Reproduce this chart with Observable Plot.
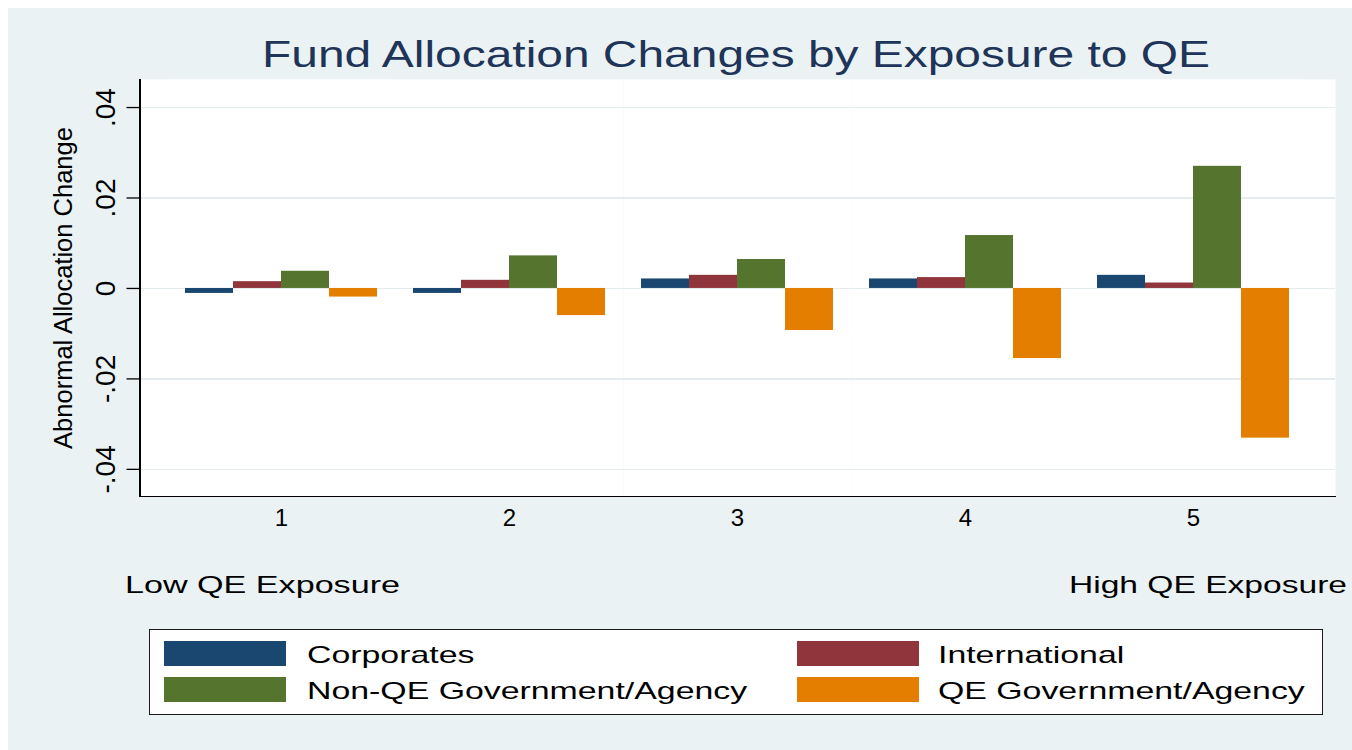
<!DOCTYPE html>
<html>
<head>
<meta charset="utf-8">
<script src="https://cdn.jsdelivr.net/npm/d3@7"></script>
<script src="https://cdn.jsdelivr.net/npm/@observablehq/plot@0.6"></script>
<style>
  html, body { margin: 0; padding: 0; background: #ffffff; }
  #page { position: relative; width: 1352px; height: 750px; overflow: hidden;
          font-family: "Liberation Sans", Arial, sans-serif; }
  #bg { position: absolute; left: 8px; top: 8px; width: 1344px; height: 742px; background: #EAF2F3; }
  #chart { position: absolute; left: 0; top: 69px; }
  .t { position: absolute; white-space: nowrap; line-height: 1; transform-origin: 0 0; color: #000; }
  #title { color: #1e3458; font-size: 36px; }
  #ytitle { left: 0; top: 0; font-size: 25.5px; }
  #legend { position: absolute; left: 149px; top: 629px; width: 1172px; height: 84px;
            background: #fff; border: 1.5px solid #1a1a1a; }
  .sw { position: absolute; width: 122px; height: 25px; }
</style>
</head>
<body>
<div id="page">
  <div id="bg"></div>
  <div id="chart"></div>
  <div id="title" class="t"></div>
  <div id="ytitle" class="t"></div>
  <div id="lowLbl" class="t"></div>
  <div id="highLbl" class="t"></div>
  <div id="legend"></div>
</div>
<script>
// ---- data ----
const titleText = "Fund Allocation Changes by Exposure to QE";
const yTitle = "Abnormal Allocation Change";
const lowText = "Low QE Exposure";
const highText = "High QE Exposure";
const groups = [1, 2, 3, 4, 5];
const series = ["Corporates", "International", "Non-QE Government/Agency", "QE Government/Agency"];
const corporates    = [-0.0011, -0.0011, 0.0021, 0.0021, 0.0029];
const international = [ 0.0015,  0.0018, 0.0029, 0.0024, 0.0012];
const nonQE         = [ 0.0038,  0.0072, 0.0064, 0.0117, 0.0270];
const qe            = [-0.0019, -0.0060, -0.0093, -0.0155, -0.0331];
const colors = ["#1a476f", "#90353b", "#55752f", "#e37e00"];
const yTicks = [-0.04, -0.02, 0, 0.02, 0.04];

const seriesValues = [corporates, international, nonQE, qe];
const data = groups.flatMap((g, i) => series.map((s, j) => ({group: g, series: s, value: seriesValues[j][i]})));
const fmt = d => d === 0 ? "0" : d3.format(".2f")(d).replace("\u2212", "-").replace("0.", ".");

const yDomain = [-0.046, 0.0462];
const outer = 27.5;          // outer gap between the plot edge and the first/last group cell
const ext = -outer - 0.5;    // negative inset that extends the edge cells to the plot edge
const gridStyle = {stroke: "#E4ECEF", strokeWidth: 1.5, shapeRendering: "crispEdges"};
const baseStyle = {stroke: "#000", strokeWidth: 1.5, shapeRendering: "crispEdges"};
const chart = Plot.plot({
  width: 1352,
  height: 473,
  marginLeft: 137,
  marginRight: 16,
  marginTop: 10,
  marginBottom: 46,
  style: {fontFamily: "'Liberation Sans', Arial, sans-serif", background: "transparent", color: "#000", overflow: "visible"},
  fx: {domain: groups, paddingInner: 0, paddingOuter: 0.12, label: null},
  x: {domain: series, paddingInner: 0, paddingOuter: 0.33, axis: null},
  y: {domain: yDomain, label: null, axis: null},
  color: {domain: series, range: colors},
  marks: [
    // white plot region
    Plot.frame({fill: "white", stroke: null}),
    Plot.frame({fill: "white", stroke: null, facetAnchor: "left", insetLeft: ext}),
    Plot.frame({fill: "white", stroke: null, facetAnchor: "right", insetRight: ext}),
    // grid lines
    Plot.ruleY(yTicks, gridStyle),
    Plot.ruleY(yTicks, {...gridStyle, facetAnchor: "left", insetLeft: ext}),
    Plot.ruleY(yTicks, {...gridStyle, facetAnchor: "right", insetRight: ext}),
    // bars
    Plot.barY(data, {fx: "group", x: "series", y: "value", fill: "series"}),
    // y axis: tick marks, then rotated labels
    Plot.axisY(yTicks, {anchor: "left", dx: -outer, tickSize: 13, tickFormat: () => "", strokeWidth: 1.3, label: null}),
    Plot.axisY(yTicks, {anchor: "left", dx: -outer, tickSize: 0, tickPadding: 25, tickFormat: fmt,
      rotate: -90, textAnchor: "middle", lineAnchor: "bottom", fontSize: 28, label: null}),
    Plot.axisFx({anchor: "bottom", tickSize: 0, tickPadding: 12, fontSize: 24, label: null}),
    // axis lines
    Plot.frame({...baseStyle, anchor: "bottom"}),
    Plot.frame({...baseStyle, anchor: "bottom", facetAnchor: "left", insetLeft: ext}),
    Plot.frame({...baseStyle, anchor: "bottom", facetAnchor: "right", insetRight: ext}),
    Plot.frame({...baseStyle, anchor: "left", facetAnchor: "left", dx: -outer})
  ]
});
document.getElementById("chart").appendChild(chart);

// ---- text placement (horizontal texts are stretched as in the reference) ----
function place(id, text, size, left, baseline, targetWidth) {
  const el = document.getElementById(id);
  el.textContent = text;
  el.style.fontSize = size + "px";
  const w = el.getBoundingClientRect().width;
  const s = targetWidth / w;
  el.style.left = left + "px";
  el.style.top = (baseline - 0.8465 * size) + "px";
  el.style.transform = `scaleX(${s})`;
}
place("title", titleText, 36, 262, 67, 948);
place("lowLbl", lowText, 24, 125, 593, 275);
place("highLbl", highText, 24, 1069, 593, 278);

const yt = document.getElementById("ytitle");
yt.textContent = yTitle;
yt.style.transform = "translate(64px, 288px) rotate(-90deg) translate(-50%, -50%)";

// ---- legend ----
const legend = document.getElementById("legend");
series.forEach((s, i) => {
  const col = i % 2, row = Math.floor(i / 2);
  const sw = document.createElement("div");
  sw.className = "sw";
  sw.style.background = colors[i];
  sw.style.left = (14 + col * 633) + "px";
  sw.style.top = (11 + row * 36) + "px";
  legend.appendChild(sw);
  const t = document.createElement("div");
  t.className = "t";
  t.textContent = s;
  t.style.fontSize = "24px";
  t.style.left = (157 + col * 631) + "px";
  t.style.top = (33.5 + row * 36 - 0.8465 * 24) + "px";
  t.style.transform = "scaleX(1.41)";
  legend.appendChild(t);
});
</script>
</body>
</html>
